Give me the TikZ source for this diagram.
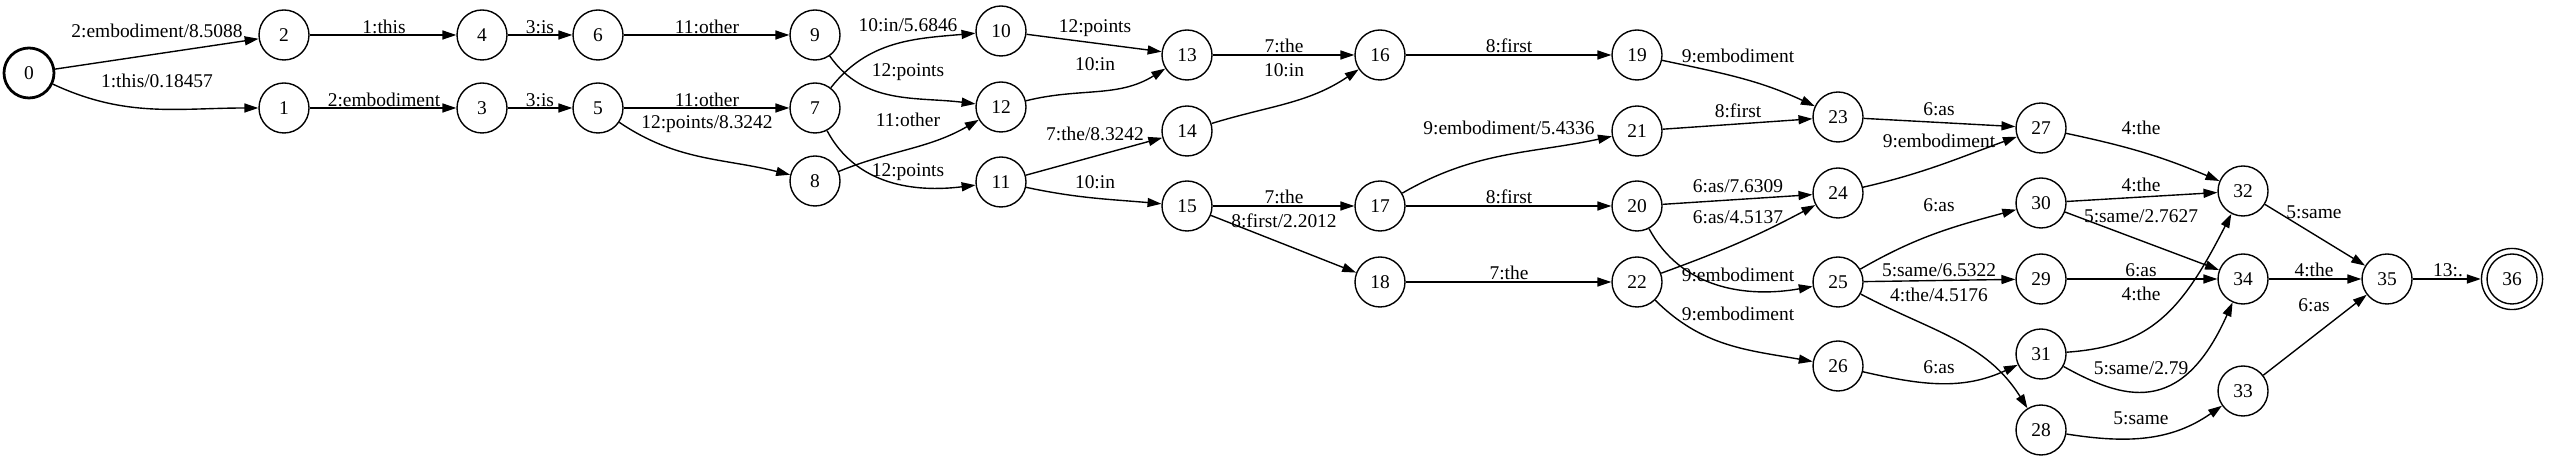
\documentclass[tikz,border=0pt]{standalone}
\usepackage{fontspec}
\setmainfont{Liberation Serif}
\usetikzlibrary{arrows.meta}
\tikzset{
  st/.style={circle, draw, line width=1pt, minimum size=36pt, inner sep=0pt, font=\fontsize{14}{16}\selectfont},
  init/.style={st, line width=2pt},
  fin/.style={st, minimum size=44pt},
  lbl/.style={inner sep=0pt, font=\fontsize{14}{16}\selectfont},
  e/.style={-{Triangle[length=10pt,width=6.5pt]}, line width=1pt}
}
\begin{document}
\begin{tikzpicture}[x=0.72pt, y=0.72pt]
\useasboundingbox (0,0) rectangle (2550,461);
% states
\node[init] (n0) at (29,388) {0};
\node[st] (n2) at (284,426) {2};
\node[st] (n1) at (284,353) {1};
\node[st] (n4) at (482,426) {4};
\node[st] (n3) at (482,353) {3};
\node[st] (n6) at (598,426) {6};
\node[st] (n5) at (598,353) {5};
\node[st] (n9) at (815,426) {9};
\node[st] (n7) at (815,353) {7};
\node[st] (n8) at (815,280) {8};
\node[st] (n10) at (1001,430) {10};
\node[st] (n12) at (1001,354) {12};
\node[st] (n11) at (1001,279) {11};
\node[st] (n13) at (1187,406) {13};
\node[st] (n14) at (1187,330) {14};
\node[st] (n15) at (1187,255) {15};
\node[st] (n16) at (1380,406) {16};
\node[st] (n17) at (1380,255) {17};
\node[st] (n18) at (1380,179) {18};
\node[st] (n19) at (1637,406) {19};
\node[st] (n21) at (1637,330) {21};
\node[st] (n20) at (1637,255) {20};
\node[st] (n22) at (1637,179) {22};
\node[st] (n23) at (1838,344) {23};
\node[st] (n24) at (1838,268) {24};
\node[st] (n25) at (1838,179) {25};
\node[st] (n26) at (1838,95) {26};
\node[st] (n27) at (2041,333) {27};
\node[st] (n30) at (2041,258) {30};
\node[st] (n29) at (2041,182) {29};
\node[st] (n31) at (2041,107) {31};
\node[st] (n28) at (2041,31) {28};
\node[st] (n32) at (2243,270) {32};
\node[st] (n34) at (2243,182) {34};
\node[st] (n33) at (2243,70) {33};
\node[st] (n35) at (2387,182) {35};
\node[fin] (n36) at (2512,182) {36};
\draw[line width=1pt] (n36.center) circle (18pt);
% edges
\draw[e] (n0) -- (n2);
\draw[e] (n0) to[out=-25,in=180] (n1);
\draw[e] (n2) -- (n4);
\draw[e] (n1) -- (n3);
\draw[e] (n4) -- (n6);
\draw[e] (n3) -- (n5);
\draw[e] (n6) -- (n9);
\draw[e] (n5) -- (n7);
\draw[e] (n5) to[out=-34,in=166] (n8);
\draw[e] (n7) to[out=52,in=185] (n10);
\draw[e] (n9) to[out=-55,in=173] (n12);
\draw[e] (n8) to[out=22,in=210] (n12);
\draw[e] (n7) to[out=-62,in=187] (n11);
\draw[e] (n10) -- (n13);
\draw[e] (n12) to[out=14,in=212] (n13);
\draw[e] (n11) -- (n14);
\draw[e] (n11) to[out=-12,in=175] (n15);
\draw[e] (n13) -- (n16);
\draw[e] (n14) to[out=17,in=214] (n16);
\draw[e] (n15) -- (n17);
\draw[e] (n15) -- (n18);
\draw[e] (n16) -- (n19);
\draw[e] (n17) to[out=30,in=192] (n21);
\draw[e] (n17) -- (n20);
\draw[e] (n18) -- (n22);
\draw[e] (n19) to[out=-12,in=155] (n23);
\draw[e] (n21) -- (n23);
\draw[e] (n20) -- (n24);
\draw[e] (n22) to[out=20,in=208] (n24);
\draw[e] (n20) to[out=-62,in=190] (n25);
\draw[e] (n22) to[out=-45,in=170] (n26);
\draw[e] (n23) -- (n27);
\draw[e] (n24) to[out=13,in=200] (n27);
\draw[e] (n25) to[out=30,in=195] (n30);
\draw[e] (n25) -- (n29);
\draw[e] (n25) to[out=-28,in=122] (n28);
\draw[e] (n26) to[out=-13,in=205] (n31);
\draw[e] (n27) to[out=-12,in=157] (n32);
\draw[e] (n30) -- (n32);
\draw[e] (n30) -- (n34);
\draw[e] (n29) -- (n34);
\draw[e] (n31) to[out=4,in=243,in looseness=1.3] (n32);
\draw[e] (n31) to[out=-29,in=246,out looseness=0.95,in looseness=1.8] (n34);
\draw[e] (n28) to[out=-9,in=215] (n33);
\draw[e] (n32) -- (n35);
\draw[e] (n34) -- (n35);
\draw[e] (n33) -- (n35);
\draw[e] (n35) -- (n36);
% labels
\node[lbl] (l1) at (157,430) {2:embodiment/8.5088};
\node[lbl] (l2) at (157,380) {1:this/0.18457};
\node[lbl] (l3) at (384,434) {1:this};
\node[lbl] (l4) at (384,361) {2:embodiment};
\node[lbl] (l5) at (540,434) {3:is};
\node[lbl] (l6) at (540,361) {3:is};
\node[lbl] (l7) at (707,434) {11:other};
\node[lbl] (l8) at (707,361) {11:other};
\node[lbl] (l9) at (707,337) {12:points/8.3242};
\node[lbl] (l10) at (908,436) {10:in/5.6846};
\node[lbl] (l11) at (908,389) {12:points};
\node[lbl] (l12) at (908,341) {11:other};
\node[lbl] (l13) at (908,289) {12:points};
\node[lbl] (l14) at (1095,433) {12:points};
\node[lbl] (l15) at (1095,397) {10:in};
\node[lbl] (l16) at (1095,327) {7:the/8.3242};
\node[lbl] (l17) at (1095,279) {10:in};
\node[lbl] (l18) at (1284,415) {7:the};
\node[lbl] (l19) at (1284,391) {10:in};
\node[lbl] (l20) at (1284,264) {7:the};
\node[lbl] (l21) at (1284,240) {8:first/2.2012};
\node[lbl] (l22) at (1509,415) {8:first};
\node[lbl] (l23) at (1509,333) {9:embodiment/5.4336};
\node[lbl] (l24) at (1509,264) {8:first};
\node[lbl] (l25) at (1509,188) {7:the};
\node[lbl] (l26) at (1738,405) {9:embodiment};
\node[lbl] (l27) at (1738,350) {8:first};
\node[lbl] (l28) at (1738,275) {6:as/7.6309};
\node[lbl] (l29) at (1738,244) {6:as/4.5137};
\node[lbl] (l30) at (1738,186) {9:embodiment};
\node[lbl] (l31) at (1738,147) {9:embodiment};
\node[lbl] (l32) at (1939,352) {6:as};
\node[lbl] (l33) at (1939,320) {9:embodiment};
\node[lbl] (l34) at (1939,256) {6:as};
\node[lbl] (l35) at (1939,191) {5:same/6.5322};
\node[lbl] (l36) at (1939,166) {4:the/4.5176};
\node[lbl] (l37) at (1939,94) {6:as};
\node[lbl] (l38) at (2141,333) {4:the};
\node[lbl] (l39) at (2141,276) {4:the};
\node[lbl] (l40) at (2141,245) {5:same/2.7627};
\node[lbl] (l41) at (2141,191) {6:as};
\node[lbl] (l42) at (2141,167) {4:the};
\node[lbl] (l43) at (2141,93) {5:same/2.79};
\node[lbl] (l44) at (2141,43) {5:same};
\node[lbl] (l45) at (2314,249) {5:same};
\node[lbl] (l46) at (2314,191) {4:the};
\node[lbl] (l47) at (2314,156) {6:as};
\node[lbl] (l48) at (2448,191) {13:.};
\end{tikzpicture}
\end{document}
